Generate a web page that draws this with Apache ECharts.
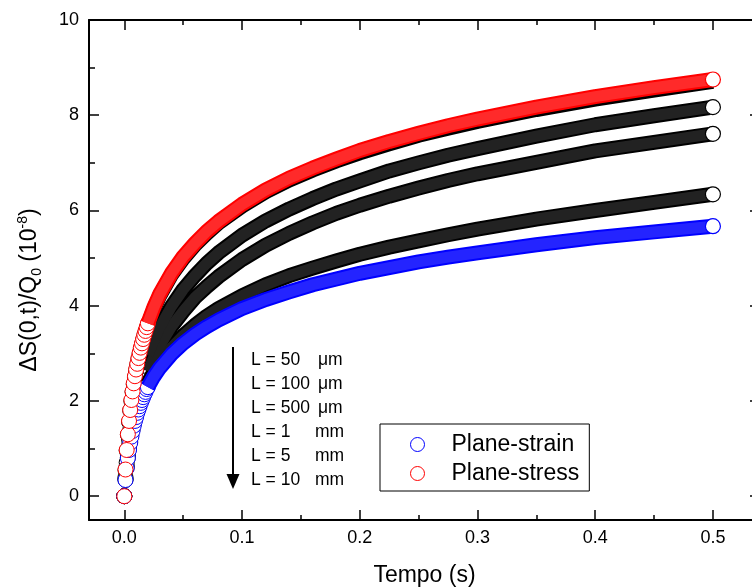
<!DOCTYPE html>
<html>
<head>
<meta charset="utf-8">
<script src="https://cdn.jsdelivr.net/npm/echarts@6/dist/echarts.min.js"></script>
<style>
  html, body { margin: 0; padding: 0; background: #fff; }
  #chart { width: 752px; height: 588px; }
</style>
</head>
<body>
<div id="chart"></div>
<script>
// tempo (s): fine steps at the start, coarser later
const tempo = [0, 0.001, 0.002, 0.003, 0.004, 0.005, 0.006, 0.007, 0.008, 0.009, 0.010,
  0.011, 0.012, 0.013, 0.014, 0.015, 0.016, 0.017, 0.018, 0.019, 0.020,
  0.025, 0.03, 0.04, 0.05, 0.06, 0.07, 0.08, 0.10, 0.12, 0.14, 0.16, 0.18, 0.20,
  0.225, 0.25, 0.275, 0.30, 0.35, 0.40, 0.45, 0.50];

const planeStress = [0, 0.56, 0.97, 1.30, 1.58, 1.81, 2.02, 2.20, 2.37, 2.52, 2.66,
  2.78, 2.90, 3.01, 3.12, 3.21, 3.30, 3.39, 3.47, 3.55, 3.63,
  3.96, 4.24, 4.68, 5.03, 5.31, 5.56, 5.77, 6.13, 6.43, 6.68, 6.89, 7.08, 7.26,
  7.45, 7.62, 7.78, 7.92, 8.17, 8.39, 8.58, 8.75];

const planeStrain = [0, 0.34, 0.59, 0.80, 0.97, 1.12, 1.25, 1.37, 1.48, 1.58, 1.66,
  1.75, 1.82, 1.89, 1.96, 2.02, 2.08, 2.14, 2.19, 2.25, 2.29,
  2.51, 2.69, 2.98, 3.21, 3.40, 3.56, 3.70, 3.94, 4.13, 4.29, 4.44, 4.56, 4.68,
  4.80, 4.92, 5.02, 5.11, 5.28, 5.43, 5.55, 5.67];

const l50um = [0, 0.55, 0.96, 1.29, 1.56, 1.80, 2.00, 2.19, 2.35, 2.50, 2.64,
  2.76, 2.88, 2.99, 3.09, 3.19, 3.28, 3.37, 3.45, 3.53, 3.60,
  3.93, 4.21, 4.65, 4.99, 5.28, 5.52, 5.74, 6.09, 6.39, 6.64, 6.85, 7.04, 7.21,
  7.40, 7.58, 7.73, 7.87, 8.12, 8.34, 8.53, 8.71];

const l100um = [0, 0.40, 0.71, 0.97, 1.19, 1.39, 1.55, 1.71, 1.84, 1.97, 2.09,
  2.20, 2.31, 2.40, 2.49, 2.58, 2.66, 2.74, 2.81, 2.89, 2.96,
  3.26, 3.54, 3.98, 4.34, 4.63, 4.89, 5.11, 5.48, 5.78, 6.03, 6.25, 6.45, 6.62,
  6.83, 7.00, 7.16, 7.30, 7.56, 7.80, 7.99, 8.17];

const l500um = [0, 0.36, 0.64, 0.87, 1.06, 1.23, 1.38, 1.52, 1.65, 1.76, 1.86,
  1.96, 2.05, 2.14, 2.22, 2.30, 2.37, 2.44, 2.51, 2.57, 2.63,
  2.92, 3.15, 3.56, 3.88, 4.17, 4.40, 4.61, 4.97, 5.27, 5.52, 5.74, 5.94, 6.11,
  6.30, 6.47, 6.63, 6.77, 7.01, 7.25, 7.43, 7.61];

const l1mm = [0, 0.34, 0.60, 0.81, 0.99, 1.14, 1.28, 1.40, 1.51, 1.61, 1.70,
  1.79, 1.87, 1.95, 2.02, 2.08, 2.15, 2.21, 2.27, 2.32, 2.37,
  2.60, 2.80, 3.12, 3.37, 3.59, 3.78, 3.94, 4.21, 4.44, 4.63, 4.79, 4.94, 5.08,
  5.23, 5.36, 5.49, 5.61, 5.82, 6.00, 6.17, 6.34];

const xMajor = [0, 0.1, 0.2, 0.3, 0.4, 0.5];
const xMinor = [0.05, 0.15, 0.25, 0.35, 0.45];
const yMajor = [0, 2, 4, 6, 8, 10];
const yMinor = [1, 3, 5, 7, 9];

const lLabels = ['L = 50', 'L = 100', 'L = 500', 'L = 1', 'L = 5', 'L = 10'];
const lUnits = ['\u03bcm', '\u03bcm', '\u03bcm', 'mm', 'mm', 'mm'];

const FONT = "'Liberation Sans', Arial, sans-serif";
const SIZE = 15;
const SPLIT = 0.02;

const chart = echarts.init(document.getElementById('chart'));

function pairs(vals) {
    return tempo.map((t, i) => [t, vals[i]]);
}

// separate circles where the curve is steep
function earlyScatter(name, vals, color, z) {
    return {
        name: name, type: 'scatter', symbol: 'circle', symbolSize: SIZE, z: z,
        data: pairs(vals).filter(p => p[0] <= SPLIT),
        itemStyle: { color: '#fff', borderColor: color, borderWidth: 1, opacity: 1 },
        silent: true
    };
}

// dense run of overlapping circles drawn as a thick band
function band(vals, color, width, z) {
    return {
        type: 'line', showSymbol: false, symbol: 'none', smooth: false, z: z,
        data: pairs(vals).filter(p => p[0] >= SPLIT),
        lineStyle: { color: color, width: width, cap: 'butt', join: 'round' },
        silent: true
    };
}

function lastPoint(vals, color) {
    const p = pairs(vals);
    return {
        type: 'scatter', symbol: 'circle', symbolSize: SIZE, z: 20,
        data: [p[p.length - 1]],
        itemStyle: { color: '#fff', borderColor: color, borderWidth: 1.2, opacity: 1 },
        silent: true
    };
}

const blacks = [l1mm, l500um, l100um];
let series = [];
[l1mm, l500um, l100um, l50um].forEach(v => series.push(earlyScatter('', v, '#000', 2)));
blacks.forEach(v => {
    series.push(band(v, '#000', SIZE, 3));
    series.push(band(v, '#222', SIZE - 4, 4));
});
series.push(band(l50um, '#000', SIZE, 3));
series.push(earlyScatter('Plane-strain', planeStrain, '#0000ff', 5));
series.push(band(planeStrain, '#0000ff', SIZE, 6));
series.push(band(planeStrain, '#2424ff', SIZE - 4, 7));
series.push(earlyScatter('Plane-stress', planeStress, '#ff0000', 8));
series.push(band(planeStress, '#ff0000', SIZE, 9));
series.push(band(planeStress, '#ff2a2a', SIZE - 4, 10));
blacks.forEach(v => series.push(lastPoint(v, '#000')));
series.push(lastPoint(planeStrain, '#0000ff'));
series.push(lastPoint(planeStress, '#ff0000'));

function xAx(pos, ticks, len, withLine, withLabels) {
    return {
        type: 'value', position: pos, min: -0.03, max: 0.54,
        axisLine: { show: withLine, onZero: false, lineStyle: { color: '#000', width: 2 } },
        axisTick: { show: true, inside: true, length: len, customValues: ticks,
            lineStyle: { color: '#000', width: 1.5 } },
        axisLabel: withLabels ? { show: true, customValues: ticks, margin: 9,
            formatter: v => v.toFixed(1), fontSize: 18, fontFamily: FONT, color: '#000' } : { show: false },
        splitLine: { show: false }
    };
}

function yAx(pos, ticks, len, withLine, withLabels) {
    return {
        type: 'value', position: pos, min: -0.5, max: 10,
        axisLine: { show: withLine, onZero: false, lineStyle: { color: '#000', width: 2 } },
        axisTick: { show: true, inside: true, length: len, customValues: ticks,
            lineStyle: { color: '#000', width: 1.5 } },
        axisLabel: withLabels ? { show: true, customValues: ticks, margin: 10,
            fontSize: 18, fontFamily: FONT, color: '#000' } : { show: false },
        splitLine: { show: false }
    };
}

const xBottom = xAx('bottom', xMajor, 10, true, true);
xBottom.name = 'Tempo (s)';
xBottom.nameLocation = 'middle';
xBottom.nameGap = 44;
xBottom.nameTextStyle = { fontSize: 23, fontFamily: FONT, color: '#000' };

const graphic = [];
lLabels.forEach((txt, i) => {
    const y = 360 + i * 24.1;
    graphic.push({ type: 'text', x: 251, y: y, silent: true,
        style: { text: txt, fontSize: 17.5, fontFamily: FONT, fill: '#000', align: 'left', verticalAlign: 'middle' } });
    graphic.push({ type: 'text', x: lUnits[i] === 'mm' ? 315 : 318, y: y, silent: true,
        style: { text: lUnits[i], fontSize: 17.5, fontFamily: FONT, fill: '#000', align: 'left', verticalAlign: 'middle' } });
});
graphic.push({ type: 'line', silent: true, shape: { x1: 233, y1: 347, x2: 233, y2: 478 },
    style: { stroke: '#000', lineWidth: 2 } });
graphic.push({ type: 'polygon', silent: true, shape: { points: [[226.5, 474], [239.5, 474], [233, 489]] },
    style: { fill: '#000' } });
graphic.push({ type: 'text', x: 30, y: 290, rotation: Math.PI / 2, silent: true,
    style: {
        text: '{a|\u0394S(0,t)/Q}{b|0}{a| (10}{c|-8}{a|)}',
        align: 'center', verticalAlign: 'middle',
        rich: {
            a: { fontSize: 23, fontFamily: FONT, fill: '#000' },
            b: { fontSize: 14, fontFamily: FONT, fill: '#000', padding: [14, 0, 0, 0] },
            c: { fontSize: 14, fontFamily: FONT, fill: '#000', padding: [0, 0, 14, 0] }
        }
    } });

chart.setOption({
    animation: false,
    backgroundColor: '#fff',
    grid: { left: 89, right: -8, top: 20, bottom: 68, containLabel: false, outerBoundsMode: 'none' },
    xAxis: [xBottom, xAx('bottom', xMinor, 5, false, false),
        xAx('top', xMajor, 10, true, false), xAx('top', xMinor, 5, false, false)],
    yAxis: [yAx('left', yMajor, 10, true, true), yAx('left', yMinor, 6, false, false),
        yAx('right', yMajor, 10, true, false), yAx('right', yMinor, 6, false, false)],
    legend: {
        orient: 'vertical', left: 380, top: 424, padding: [9, 10, 6, 30], itemGap: 6,
        itemWidth: 14, itemHeight: 14, borderColor: '#000', borderWidth: 1, borderRadius: 0,
        selectedMode: false,
        textStyle: { fontSize: 23, fontFamily: FONT, color: '#000', padding: [0, 0, 0, 22] },
        data: [
            { name: 'Plane-strain', icon: 'circle', itemStyle: { color: '#fff', borderColor: '#0000ff', borderWidth: 1 } },
            { name: 'Plane-stress', icon: 'circle', itemStyle: { color: '#fff', borderColor: '#ff0000', borderWidth: 1 } }
        ]
    },
    graphic: graphic,
    series: series
});
</script>
</body>
</html>
